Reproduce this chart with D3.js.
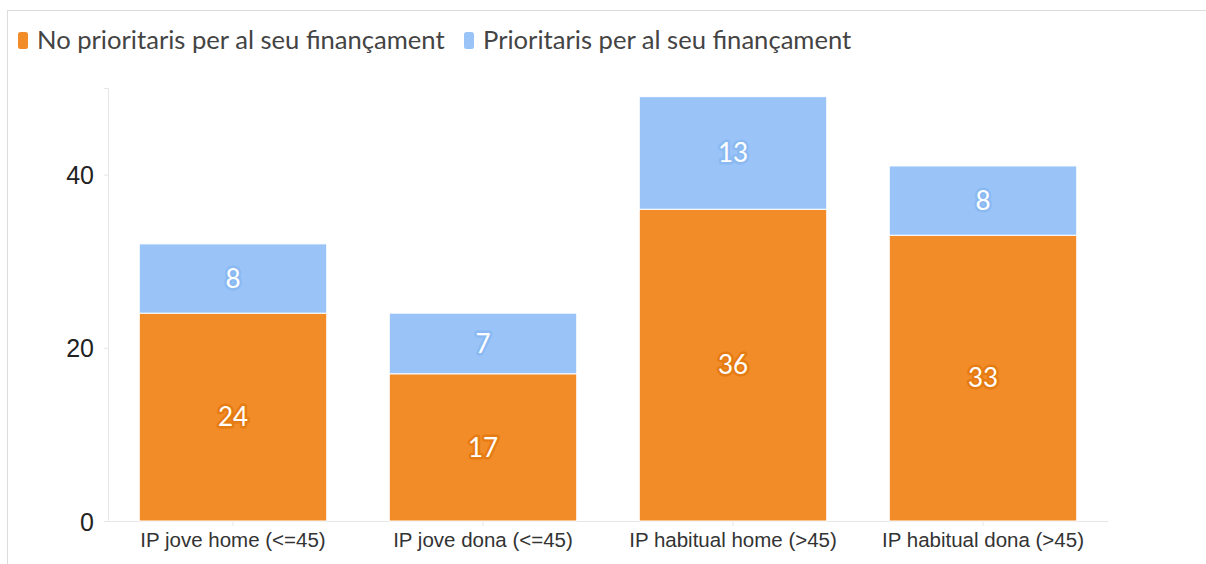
<!DOCTYPE html>
<html>
<head>
<meta charset="utf-8">
<script src="https://cdn.jsdelivr.net/npm/d3@7"></script>
<style>
  body { margin: 0; background: #fff; }
  svg { display: block; font-family: Lato, "Open Sans", sans-serif; }
</style>
</head>
<body>
<div id="chart"></div>
<script>
"use strict";

const categories = ["IP jove home (<=45)", "IP jove dona (<=45)", "IP habitual home (>45)", "IP habitual dona (>45)"];
const seriesNames = ["No prioritaris per al seu finançament", "Prioritaris per al seu finançament"];
const noPrioritaris = [24, 17, 36, 33];
const prioritaris = [8, 7, 13, 8];
const yTicks = [0, 20, 40];

const size = {
    width: 1206,
    height: 564,
    left: 108,
    right: 1108,
    top: 88,
    bottom: 521
}
const colors = ["#f28c28", "#9ac4f8"];
const halos = ["#e57b12", "#8bb9f2"];

window.onload = function () {
    let svg = d3.select("#chart")
        .append("svg")
        .attr("width", size.width)
        .attr("height", size.height);

    // frame
    svg.append("rect")
        .attr("x", 7.5)
        .attr("y", 10.5)
        .attr("width", 1210)
        .attr("height", 600)
        .attr("fill", "none")
        .attr("stroke", "#dcdcdc");

    drawLegend(svg);

    let x = d3.scaleBand()
        .domain(categories)
        .range([size.left, size.right])
        .paddingInner(0.25)
        .paddingOuter(0.125);

    let y = d3.scaleLinear()
        .domain([0, 50])
        .range([size.bottom, size.top]);

    let rows = categories.map((c, i) => ({ cat: c, a: noPrioritaris[i], b: prioritaris[i] }));
    let stacked = d3.stack().keys(["a", "b"])(rows);

    // axes
    let yAxis = d3.axisLeft(y).tickValues(yTicks).tickSize(4).tickPadding(10);
    let gy = svg.append("g")
        .attr("transform", "translate(" + size.left + ",0)")
        .call(yAxis);
    gy.select(".domain").attr("stroke", "#e6e6e6");
    gy.selectAll(".tick line").attr("stroke", "#e6e6e6");
    gy.selectAll(".tick text")
        .attr("fill", "#222")
        .style("font-size", "25px")
        .attr("dy", "0.36em");

    let xAxis = d3.axisBottom(x).tickSize(5).tickPadding(6).tickSizeOuter(0);
    let gx = svg.append("g")
        .attr("transform", "translate(0," + size.bottom + ")")
        .call(xAxis);
    gx.select(".domain").attr("stroke", "#e6e6e6");
    gx.selectAll(".tick line").attr("stroke", "#e6e6e6");
    gx.selectAll(".tick text")
        .attr("fill", "#333")
        .style("font-size", "20.5px");

    // bars
    stacked.forEach((layer, k) => {
        let g = svg.append("g");
        g.selectAll("rect")
            .data(layer)
            .enter()
            .append("rect")
            .attr("x", d => x(d.data.cat))
            .attr("width", x.bandwidth())
            .attr("y", d => y(d[1]))
            .attr("height", d => y(d[0]) - y(d[1]))
            .attr("fill", colors[k])
            .attr("stroke", "#fff")
            .attr("stroke-width", 1);

        g.selectAll("text")
            .data(layer)
            .enter()
            .append("text")
            .attr("x", d => x(d.data.cat) + x.bandwidth() / 2)
            .attr("y", d => (y(d[0]) + y(d[1])) / 2)
            .attr("dy", "0.36em")
            .attr("text-anchor", "middle")
            .attr("fill", "#fff")
            .attr("stroke", halos[k])
            .attr("stroke-width", 5)
            .attr("stroke-linejoin", "round")
            .attr("paint-order", "stroke")
            .style("font-size", "26px")
            .text(d => d[1] - d[0]);
    });
}

function drawLegend(svg) {
    let pos = [18, 464];
    seriesNames.forEach((name, i) => {
        svg.append("rect")
            .attr("x", pos[i])
            .attr("y", 32)
            .attr("width", 10)
            .attr("height", 17)
            .attr("rx", 2.5)
            .attr("fill", colors[i]);
        svg.append("text")
            .attr("x", pos[i] + 19)
            .attr("y", 49)
            .attr("fill", "#444")
            .style("font-size", "25.6px")
            .text(name);
    });
}
</script>
</body>
</html>
